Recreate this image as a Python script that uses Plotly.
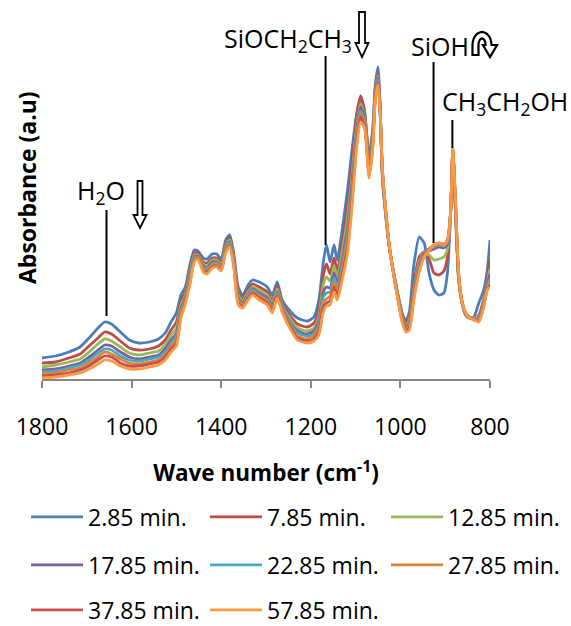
import math
import plotly.graph_objects as go

# ---------------- data ----------------
wavenumber = [1800, 1770, 1740, 1715, 1695, 1675, 1660, 1645, 1625, 1605,
              1585, 1560, 1540, 1525, 1512, 1500, 1490, 1480, 1470, 1460,
              1452, 1440, 1432, 1420, 1410, 1400, 1390, 1381, 1372, 1362,
              1352, 1340, 1330, 1315, 1297, 1286, 1275, 1264, 1252, 1230,
              1208, 1193, 1182, 1172, 1165, 1157, 1148, 1141, 1130, 1118,
              1108, 1098, 1089, 1080, 1070, 1062, 1056, 1050, 1045, 1040,
              1025, 1006, 996, 988, 980, 970, 958, 947, 936, 925,
              914, 903, 895, 888, 883, 877, 870, 862, 855, 847,
              836, 825, 814, 806, 800]

abs_2_85 = [21, 23, 27, 32, 41, 51, 57, 55, 47, 39, 36, 37, 40, 46, 57, 66, 84, 92, 114, 129,
            128, 121, 120, 125, 125, 120, 139, 144, 126, 92, 84, 94, 99, 97, 92, 84, 97, 79, 71, 61,
            58, 62, 79, 117, 134, 117, 134, 119, 149, 189, 229, 264, 281, 267, 224, 249, 294, 312, 269, 199,
            132, 86, 66, 58, 67, 114, 142, 136, 106, 89, 84, 86, 106, 166, 229, 166, 99, 76, 64, 61,
            62, 76, 89, 109, 139]
abs_7_85 = [16, 17, 21, 25, 33, 41, 47, 45, 38, 31, 29, 30, 33, 39, 49, 57, 78, 87, 109, 126,
            126, 117, 116, 121, 121, 117, 135, 141, 122, 87, 80, 90, 95, 92, 87, 79, 93, 76, 67, 55,
            52, 56, 70, 104, 115, 105, 121, 108, 136, 172, 214, 262, 283, 268, 220, 244, 290, 305, 268, 202,
            133, 85, 64, 55, 62, 95, 122, 127, 120, 106, 104, 108, 122, 165, 226, 170, 100, 75, 65, 62,
            61, 64, 80, 100, 120]
abs_12_85 = [12, 14, 17, 20, 27, 35, 40, 38, 32, 26, 24, 26, 28, 34, 44, 51, 74, 84, 105, 124,
             124, 115, 113, 119, 119, 115, 133, 139, 120, 84, 78, 87, 92, 89, 84, 76, 90, 74, 64, 51,
             48, 51, 63, 95, 102, 98, 113, 101, 127, 161, 203, 252, 275, 262, 214, 240, 287, 303, 267, 204,
             133, 84, 62, 53, 59, 90, 118, 126, 124, 119, 120, 122, 130, 166, 228, 172, 101, 76, 65, 61,
             61, 62, 78, 97, 110]
abs_17_85 = [9, 10, 13, 16, 22, 29, 34, 33, 27, 22, 20, 22, 24, 30, 39, 46, 70, 82, 102, 122,
             123, 113, 111, 117, 117, 113, 131, 137, 118, 81, 76, 85, 90, 86, 81, 73, 87, 72, 61, 48,
             45, 48, 58, 87, 92, 91, 106, 95, 119, 151, 195, 246, 272, 259, 211, 237, 285, 301, 267, 205,
             133, 83, 61, 51, 56, 87, 115, 126, 128, 130, 132, 131, 135, 167, 227, 173, 102, 77, 66, 62,
             60, 61, 76, 95, 105]
abs_22_85 = [7, 8, 11, 14, 19, 26, 30, 29, 23, 19, 18, 20, 22, 27, 36, 43, 68, 80, 100, 121,
             122, 111, 110, 115, 116, 112, 130, 136, 117, 79, 75, 84, 89, 84, 79, 71, 86, 71, 60, 46,
             43, 45, 55, 82, 86, 87, 101, 91, 114, 145, 189, 243, 268, 258, 209, 235, 284, 299, 266, 206,
             133, 82, 60, 50, 54, 85, 113, 127, 130, 132, 134, 133, 137, 166, 229, 175, 103, 76, 66, 62,
             60, 60, 75, 93, 100]
abs_27_85 = [5, 6, 9, 11, 16, 22, 27, 25, 20, 16, 15, 17, 19, 24, 33, 40, 66, 78, 98, 119,
             122, 110, 108, 114, 115, 110, 129, 134, 116, 78, 74, 82, 87, 83, 78, 70, 84, 69, 58, 43,
             40, 43, 51, 77, 80, 83, 96, 87, 109, 139, 183, 239, 265, 256, 206, 233, 282, 297, 265, 207,
             134, 82, 59, 49, 53, 83, 111, 125, 129, 133, 135, 134, 138, 167, 228, 176, 104, 75, 66, 61,
             60, 59, 74, 92, 97]
abs_37_85 = [3, 4, 6, 9, 13, 19, 23, 22, 16, 13, 13, 15, 17, 22, 30, 36, 63, 77, 96, 118,
             121, 108, 107, 112, 113, 109, 127, 133, 114, 76, 72, 81, 86, 81, 76, 68, 83, 68, 57, 41,
             38, 40, 48, 72, 76, 78, 92, 83, 104, 132, 178, 234, 262, 253, 204, 231, 281, 296, 265, 208,
             134, 81, 58, 48, 51, 81, 109, 124, 130, 134, 136, 135, 139, 166, 230, 177, 105, 76, 67, 62,
             59, 58, 73, 90, 94]
abs_57_85 = [1, 2, 4, 6, 10, 15, 19, 18, 13, 10, 10, 12, 14, 19, 27, 33, 61, 75, 94, 117,
             120, 107, 105, 111, 112, 108, 126, 132, 113, 74, 71, 79, 84, 79, 74, 66, 81, 67, 55, 39,
             36, 38, 44, 67, 73, 74, 87, 79, 99, 126, 172, 229, 257, 251, 201, 229, 279, 294, 264, 209,
             134, 81, 57, 47, 49, 79, 107, 122, 129, 134, 136, 134, 139, 166, 231, 179, 106, 76, 67, 62,
             59, 57, 72, 89, 92]

series_names = ["2.85 min.", "7.85 min.", "12.85 min.", "17.85 min.",
                "22.85 min.", "27.85 min.", "37.85 min.", "57.85 min."]
series_values = [abs_2_85, abs_7_85, abs_12_85, abs_17_85,
                 abs_22_85, abs_27_85, abs_37_85, abs_57_85]
series_colors = ["#4A7EBB", "#BE4B48", "#98B954", "#7D60A0",
                 "#46AAC5", "#DB843D", "#C9504E", "#F99B45"]

# band markers (wavenumber)
band_pos = {"H2O": 1656, "SiOEt": 1167, "SiOH": 926, "EtOH": 884}

x_ticks = [1800, 1600, 1400, 1200, 1000, 800]

# ---------------- layout geometry ----------------
W, H = 571, 626
L, R, T, B = 42, 81, 0, 247
PW, PH = W - L - R, H - T - B
FONT = "Open Sans"


def px(x):
    return (x - L) / PW


def py(y):
    return (H - B - y) / PH


fig = go.Figure()
legend_cols = [26, 205, 386]
legend_rows_y = [517, 565, 610]
layout_legends = {}
for i, (name, vals, col) in enumerate(zip(series_names, series_values, series_colors)):
    lg = "legend" if i == 0 else f"legend{i + 1}"
    fig.add_trace(go.Scatter(x=wavenumber, y=vals, name=name, mode="lines", showlegend=True,
                             line=dict(color=col, width=2.8, shape="spline", smoothing=0.6),
                             legend=lg))
    layout_legends[lg] = dict(orientation="h", xanchor="left", yanchor="middle",
                              x=px(legend_cols[i % 3]), y=py(legend_rows_y[i // 3]),
                              font=dict(family=FONT, size=23, color="black"),
                              itemwidth=52, bgcolor="rgba(0,0,0,0)", visible=True)

# vertical marker lines (data coords)
for key, y0, y1 in [("H2O", 63, 169), ("SiOEt", 134, 323), ("SiOH", 136, 317), ("EtOH", 231, 259)]:
    fig.add_shape(type="line", xref="x", yref="y", x0=band_pos[key], x1=band_pos[key],
                  y0=y0, y1=y1, line=dict(color="black", width=2))


def path(points):
    s = ""
    for i, (a, b) in enumerate(points):
        s += ("M" if i == 0 else "L") + f"{px(a):.4f},{py(b):.4f} "
    return s + "Z"


def down_arrow(cx, top, tip, shaft_w, head_w, head_h):
    return path([(cx - shaft_w / 2, top), (cx + shaft_w / 2, top), (cx + shaft_w / 2, tip - head_h),
                 (cx + head_w / 2, tip - head_h), (cx, tip), (cx - head_w / 2, tip - head_h),
                 (cx - shaft_w / 2, tip - head_h)])


arrow_style = dict(type="path", xref="paper", yref="paper", fillcolor="white",
                   line=dict(color="black", width=1.8))
fig.add_shape(path=down_arrow(140, 181, 228, 5, 13, 13), **arrow_style)
fig.add_shape(path=down_arrow(362, 12, 57, 6, 13, 14), **arrow_style)


def curved_arrow():
    pts = []
    cx, cy = 482, 45
    for a in range(180, -1, -15):
        t = math.radians(a)
        pts.append((cx + 9.5 * math.cos(t), cy - 13 * math.sin(t)))
    pts += [(497, 45), (490, 57), (483, 45)]
    for a in range(0, 181, 15):
        t = math.radians(a)
        pts.append((cx + 3.5 * math.cos(t), cy - 6.5 * math.sin(t)))
    pts += [(478.5, 55), (472.5, 55)]
    return path(pts)


fig.add_shape(path=curved_arrow(), **dict(arrow_style, line=dict(color="black", width=2.2)))

ann_font = dict(family=FONT, size=25, color="black")
for text, x, y in [("H<sub>2</sub>O", 101, 191),
                   ("SiOCH<sub>2</sub>CH<sub>3</sub>", 288, 39),
                   ("SiOH", 440, 46),
                   ("CH<sub>3</sub>CH<sub>2</sub>OH", 505, 103)]:
    fig.add_annotation(text=text, x=px(x), y=py(y), xref="paper", yref="paper",
                       showarrow=False, font=ann_font, xanchor="center", yanchor="middle")

# y-axis title placed like the original (off-centre)
fig.add_annotation(text="<b>Absorbance (a.u)</b>", x=px(27), y=py(188), xref="paper", yref="paper",
                   showarrow=False, textangle=-90, font=dict(family=FONT, size=23, color="black"),
                   xanchor="center", yanchor="middle")

fig.update_layout(
    width=W, height=H, margin=dict(l=L, r=R, t=T, b=B, pad=0, autoexpand=False),
    paper_bgcolor="white", plot_bgcolor="white", showlegend=True,
    font=dict(family=FONT, color="black"),
    xaxis=dict(range=[1800, 800], tickvals=x_ticks, ticktext=[str(v) for v in x_ticks],
               showgrid=False, zeroline=False, showline=True, linecolor="#868686", linewidth=1.5,
               ticks="outside", ticklen=7, tickwidth=1.5, tickcolor="#868686",
               tickfont=dict(family=FONT, size=23, color="black"), ticklabelstandoff=20,
               title=dict(text="<b>Wave number (cm<sup>-1</sup>)</b>",
                          font=dict(family=FONT, size=22.5, color="black"), standoff=24)),
    yaxis=dict(range=[0, 379], showticklabels=False, showgrid=False, zeroline=False,
               showline=False, ticks=""),
    **layout_legends,
)

fig.write_html("out.html")
